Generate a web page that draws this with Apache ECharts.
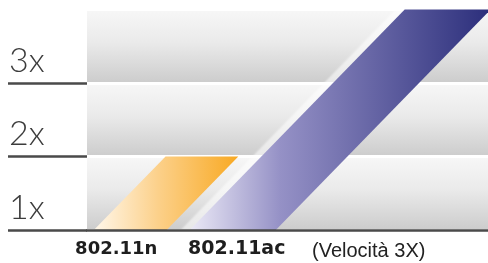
<!DOCTYPE html>
<html>
<head>
<meta charset="utf-8">
<script src="https://cdn.jsdelivr.net/npm/echarts@6/dist/echarts.min.js"></script>
<style>
html, body { margin: 0; padding: 0; background: #fff; }
#chart { width: 488px; height: 263px; }
</style>
</head>
<body>
<div id="chart"></div>
<script>
// dati del grafico
var categories = ['802.11n', '802.11ac'];
var speedValues = [1, 3];
var levelTicks = [0, 1, 2];
var levelLabels = ['1x', '2x', '3x'];
var noteText = '(Velocità 3X)';

var chart = echarts.init(document.getElementById('chart'));

// stile barre (larghezza come frazione della banda, riempimenti)
var barRatio = [0.71, 0.84];
var barFills = [
    new echarts.graphic.LinearGradient(0, 0, 1, 0, [
        { offset: 0, color: '#fff7ea' },
        { offset: 0.45, color: '#fcd089' },
        { offset: 1, color: '#f8a923' }
    ]),
    new echarts.graphic.LinearGradient(0, 0, 1, 0, [
        { offset: 0, color: '#ebe9f6' },
        { offset: 0.3, color: '#9591c6' },
        { offset: 1, color: '#2b2e7b' }
    ])
];
var bandFill = new echarts.graphic.LinearGradient(0, 0, 0, 1, [
    { offset: 0, color: '#f7f7f7' },
    { offset: 0.45, color: '#eaeaea' },
    { offset: 1, color: '#cccccc' }
]);

function renderBar(params, api) {
    var idx = api.value(0);
    var base = api.coord([idx, 0]);
    var top = api.coord([idx, api.value(1)]);
    var w = api.size([1, 0])[0] * barRatio[idx];
    var h = base[1] - top[1];
    var dx = h * 0.975;
    var x0 = base[0] - w / 2;
    return {
        type: 'polygon',
        shape: {
            points: [[x0, base[1]], [x0 + w, base[1]], [x0 + w + dx, top[1]], [x0 + dx, top[1]]]
        },
        style: {
            fill: barFills[idx],
            shadowColor: idx === 1 ? 'rgba(255,255,255,0.55)' : 'rgba(0,0,0,0)',
            shadowOffsetX: -9,
            shadowBlur: 2
        }
    };
}

var option = {
    animation: false,
    title: {
        text: noteText,
        left: 307,
        top: 236,
        textStyle: { fontFamily: 'Liberation Sans', fontSize: 20, fontWeight: 'normal', color: '#222' }
    },
    grid: [
        { left: 87, right: 0, top: 9.5, bottom: 33 },
        { left: 79, right: 204, top: 9.5, bottom: 33 }
    ],
    xAxis: [
        {
            gridIndex: 0,
            type: 'value',
            min: 0,
            max: 1,
            z: 5,
            axisLine: { show: true, lineStyle: { color: '#4a4a4a', width: 2.5 } },
            axisTick: { show: false },
            axisLabel: { show: false },
            splitLine: { show: false }
        },
        {
            gridIndex: 1,
            type: 'category',
            data: categories,
            axisLine: { show: false },
            axisTick: { show: false },
            axisLabel: {
                margin: 10,
                formatter: function (v, i) {
                    return i === 0 ? '{a|' + v + '}' : '{b|' + v + '}';
                },
                rich: {
                    a: { fontFamily: 'DejaVu Sans', fontWeight: 'bold', fontSize: 18, color: '#1e1e1e', padding: [0, 28, 0, 0] },
                    b: { fontFamily: 'DejaVu Sans', fontWeight: 'bold', fontSize: 19, color: '#1e1e1e', padding: [0, 0, 0, 8] }
                }
            }
        }
    ],
    yAxis: [
        {
            gridIndex: 0,
            type: 'value',
            min: 0,
            max: 3,
            interval: 1,
            axisLine: { show: false },
            axisTick: {
                show: true,
                customValues: levelTicks,
                inside: false,
                length: 79,
                lineStyle: { color: '#4a4a4a', width: 2.5 }
            },
            axisLabel: {
                customValues: levelTicks,
                align: 'left',
                verticalAlign: 'bottom',
                margin: 78,
                padding: [0, 0, 5, 0],
                fontFamily: 'Lato',
                fontWeight: 300,
                fontSize: 34,
                color: '#3c3c3c',
                formatter: function (v) {
                    return levelLabels[levelTicks.indexOf(v)];
                }
            },
            splitLine: { show: false },
            splitArea: { show: false }
        },
        {
            // solo per le bande di sfondo
            gridIndex: 0,
            type: 'value',
            min: 0,
            max: 3,
            interval: 1,
            position: 'left',
            axisLine: { show: false },
            axisTick: { show: false },
            axisLabel: { show: false },
            splitLine: { show: true, lineStyle: { color: '#ffffff', width: 3 } },
            splitArea: { show: true, areaStyle: { color: [bandFill] } }
        },
        {
            gridIndex: 1,
            type: 'value',
            min: 0,
            max: 3,
            show: false
        }
    ],
    series: [
        {
            type: 'custom',
            xAxisIndex: 1,
            yAxisIndex: 2,
            renderItem: renderBar,
            data: categories.map(function (c, i) { return [i, speedValues[i]]; })
        }
    ]
};
chart.setOption(option);
</script>
</body>
</html>
